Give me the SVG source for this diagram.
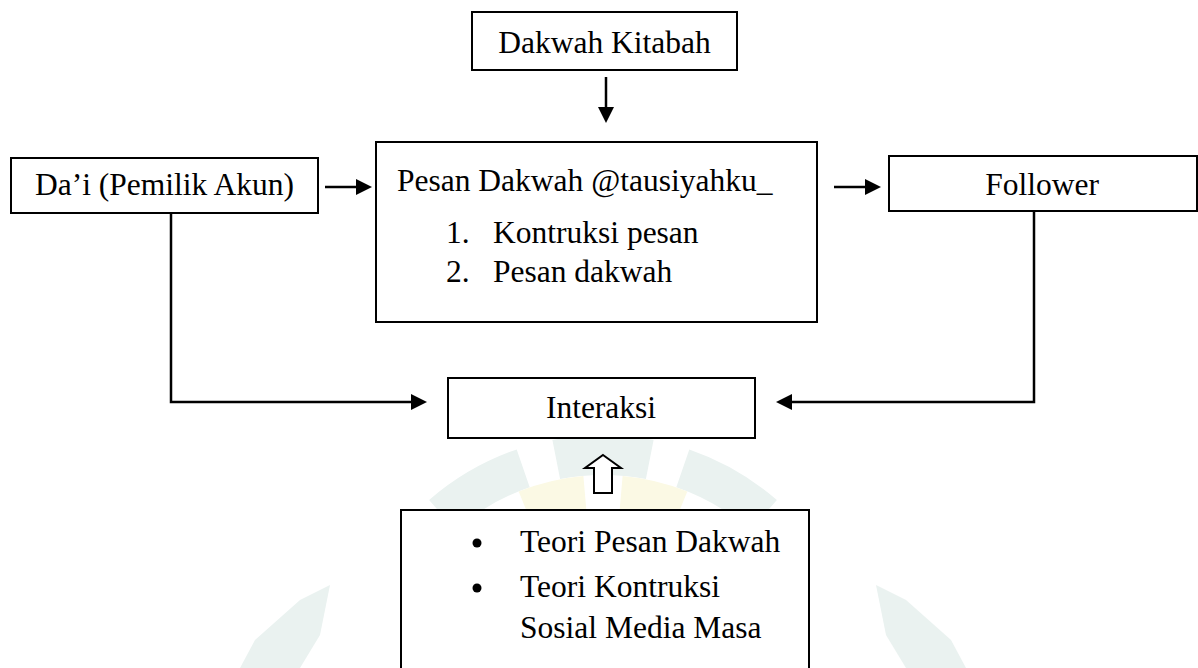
<svg xmlns="http://www.w3.org/2000/svg" width="1198" height="668" viewBox="0 0 1198 668">
<style>
  .box { fill: #ffffff; stroke: #000000; stroke-width: 2; }
  .lbl { font-family: "Liberation Serif", "Times New Roman", serif; font-size: 31.5px; fill: #000000; }
  .mid { text-anchor: middle; }
  .conn { fill: none; stroke: #000000; stroke-width: 2.5; }
  .teal { fill: #eaf2f0; }
  .yel { fill: #fbf9e4; }
</style>
<defs>
  <marker id="arr" markerUnits="userSpaceOnUse" markerWidth="16" markerHeight="16" refX="2" refY="8" orient="auto">
    <path d="M0,0 L16,8 L0,16 Z" fill="#000000"/>
  </marker>
</defs>
<rect x="0" y="0" width="1198" height="668" fill="#ffffff"/>

<g id="watermark">
  <path class="teal" d="M552.4 439.9 A265 265 0 0 1 653.6 439.9 L645.9 479.1 A225 225 0 0 0 560.1 479.1 Z"/>
  <path class="teal" d="M429.1 500 A265 265 0 0 1 516.7 449.4 L529.7 487.3 A225 225 0 0 0 455.4 530.2 Z"/>
  <path class="teal" d="M776.9 500 A265 265 0 0 0 689.3 449.4 L676.3 487.3 A225 225 0 0 1 750.6 530.2 Z"/>
  <path class="yel" d="M518.7 491.4 A225 225 0 0 1 583.4 475.9 L586.4 510.7 A190 190 0 0 0 531.8 523.8 Z"/>
  <path class="yel" d="M687.3 491.4 A225 225 0 0 0 622.6 475.9 L619.6 510.7 A190 190 0 0 1 674.2 523.8 Z"/>
  <path class="teal" d="M330 585 L300 600 L255 640 L240 668 L300 668 L320 635 Z"/>
  <path class="teal" d="M876 585 L906 600 L951 640 L966 668 L906 668 L886 635 Z"/>
</g>

<g id="connectors">
  <line class="conn" x1="606" y1="77" x2="606" y2="109" marker-end="url(#arr)"/>
  <line class="conn" x1="325" y1="187" x2="358" y2="187" marker-end="url(#arr)"/>
  <line class="conn" x1="834" y1="187" x2="867" y2="187" marker-end="url(#arr)"/>
  <polyline class="conn" points="171,213 171,402 413,402" marker-end="url(#arr)"/>
  <polyline class="conn" points="1034,211 1034,402 790,402" marker-end="url(#arr)"/>
  <polygon points="603,455 621,468 612,468 612,493 594,493 594,468 585,468" fill="#ffffff" stroke="#000000" stroke-width="2"/>
</g>

<g id="node-dakwah-kitabah">
  <rect class="box" x="472" y="12" width="265" height="58"/>
  <text class="lbl mid" x="604.5" y="53">Dakwah Kitabah</text>
</g>

<g id="node-dai">
  <rect class="box" x="11" y="158" width="307" height="55"/>
  <text class="lbl mid" x="164.5" y="195">Da’i (Pemilik Akun)</text>
</g>

<g id="node-pesan">
  <rect class="box" x="376" y="142" width="441" height="180"/>
  <text class="lbl" x="397" y="191">Pesan Dakwah @tausiyahku_</text>
  <text class="lbl" x="446" y="243">1.</text>
  <text class="lbl" x="493" y="243">Kontruksi pesan</text>
  <text class="lbl" x="446" y="282">2.</text>
  <text class="lbl" x="493" y="282">Pesan dakwah</text>
</g>

<g id="node-follower">
  <rect class="box" x="889" y="156" width="308" height="55"/>
  <text class="lbl mid" x="1042" y="195">Follower</text>
</g>

<g id="node-interaksi">
  <rect class="box" x="448" y="378" width="307" height="60"/>
  <text class="lbl mid" x="601" y="418">Interaksi</text>
</g>

<g id="node-teori">
  <rect class="box" x="401" y="510" width="408" height="200"/>
  <circle cx="477" cy="543" r="4.5" fill="#000000"/>
  <text class="lbl" x="520" y="552">Teori Pesan Dakwah</text>
  <circle cx="477" cy="588" r="4.5" fill="#000000"/>
  <text class="lbl" x="520" y="597">Teori Kontruksi</text>
  <text class="lbl" x="520" y="638">Sosial Media Masa</text>
</g>
</svg>
